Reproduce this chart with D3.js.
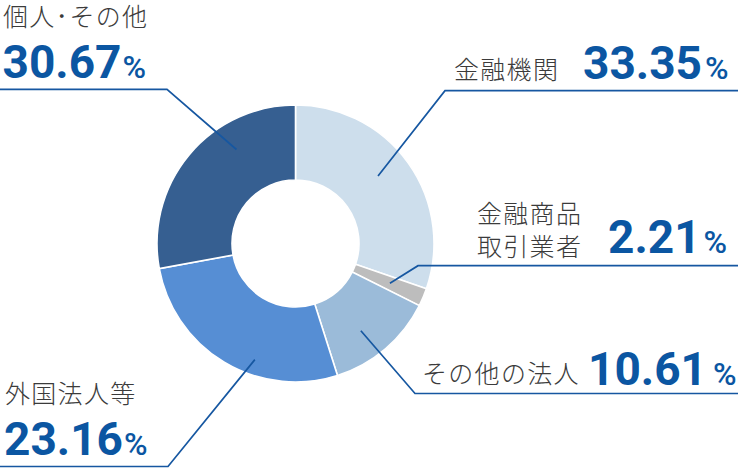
<!DOCTYPE html>
<html>
<head>
<meta charset="utf-8">
<script src="https://cdn.jsdelivr.net/npm/d3@7"></script>
<style>
  body { margin: 0; background: #fff; }
  svg { display: block; }
</style>
</head>
<body>
<main></main>
<script>
// categories in drawing order, clockwise from 12 o'clock
const categories = ["金融機関", "金融商品取引業者", "その他の法人", "外国法人等", "個人･その他"];
// percentages as printed next to each label
const printedPcts = ["33.35", "2.21", "10.61", "23.16", "30.67"];
// slice sizes as drawn in the ring (read off the angles, they do not follow the printed numbers)
const ringShares = [30.3, 2.1, 12.7, 27.0, 27.9];
const sliceColors = ["#cddeec", "#bdbdbd", "#9bbbd9", "#568ed4", "#365f91"];

const WIDTH = 740;
const HEIGHT = 473;
const CX = 295.5, CY = 243.5;
const R_IN = 63.5, R_OUT = 138.5;
const LINE_COLOR = "#1657a1";
const NUM_COLOR = "#0b56a2";

// where each label block and its leader line sit
const labelLayout = [
    { names: ["金融機関"], nameX: 454, nameY: [78.5], numX: 583, numY: 79.3, pctDx: 3, lineY: 90.7, elbowX: 445, side: "right", frac: 0.465, r: 106.6 },
    { names: ["金融商品", "取引業者"], nameX: 477, nameY: [223, 256], numX: 608, numY: 253.3, pctDx: 3, lineY: 265.7, elbowX: 418, side: "right", frac: 0.5, r: 102.5 },
    { names: ["その他の法人"], nameX: 422, nameY: [383], numX: 588, numY: 385, pctDx: 6, lineY: 393.5, elbowX: 415, side: "right", frac: 0.58, r: 109 },
    { names: ["外国法人等"], nameX: 5, nameY: [403], numX: 4, numY: 455, pctDx: 1, lineY: 466.5, elbowX: 168, side: "left", frac: 0.38, r: 123 },
    { names: ["個人･その他"], nameX: 3, nameY: [25.5], numX: 2.5, numY: 78.3, pctDx: 1, lineY: 89.3, elbowX: 167, side: "left", frac: 0.68, r: 111 }
];

var svg = d3.select("main").append("svg")
    .attr("width", WIDTH)
    .attr("height", HEIGHT);

var pie = d3.pie().sort(null).value(function (d) { return d; });
var arcs = pie(ringShares);

var arc = d3.arc().innerRadius(R_IN).outerRadius(R_OUT);

var ring = svg.append("g").attr("transform", "translate(" + CX + "," + CY + ")");

ring.selectAll("path")
    .data(arcs)
    .enter().append("path")
    .attr("d", arc)
    .style("fill", function (d, i) { return sliceColors[i]; })
    .style("stroke", "#fff")
    .style("stroke-width", 1.6);

// leader lines: from a point inside the slice, to the elbow, then flat to the page edge
var leaders = svg.append("g");
arcs.forEach(function (a, i) {
    var lay = labelLayout[i];
    var ang = a.startAngle + lay.frac * (a.endAngle - a.startAngle);
    var p = d3.arc().innerRadius(lay.r).outerRadius(lay.r).startAngle(ang).endAngle(ang).centroid();
    var edgeX = lay.side == "right" ? 738 : 0;
    var pts = [[CX + p[0], CY + p[1]], [lay.elbowX, lay.lineY], [edgeX, lay.lineY]];
    leaders.append("path")
        .attr("d", d3.line()(pts))
        .style("fill", "none")
        .style("stroke", LINE_COLOR)
        .style("stroke-width", 1.7);
});

// labels
var labels = svg.append("g");
labelLayout.forEach(function (lay, i) {
    lay.names.forEach(function (line, k) {
        labels.append("text")
            .attr("x", lay.nameX)
            .attr("y", lay.nameY[k])
            .text(line)
            .style("font-family", "'Noto Sans CJK JP', sans-serif")
            .style("font-weight", 300)
            .style("font-size", "25px")
            .style("letter-spacing", "1.3px")
            .style("fill", "#3b3b3b");
    });
    var num = labels.append("text")
        .attr("x", lay.numX)
        .attr("y", lay.numY)
        .style("font-family", "Roboto, sans-serif")
        .style("fill", NUM_COLOR);
    num.append("tspan")
        .text(printedPcts[i])
        .style("font-weight", 700)
        .style("font-size", "46px");
    num.append("tspan")
        .attr("dx", lay.pctDx)
        .text("%")
        .style("font-weight", 500)
        .style("font-size", "32px");
});
</script>
</body>
</html>
